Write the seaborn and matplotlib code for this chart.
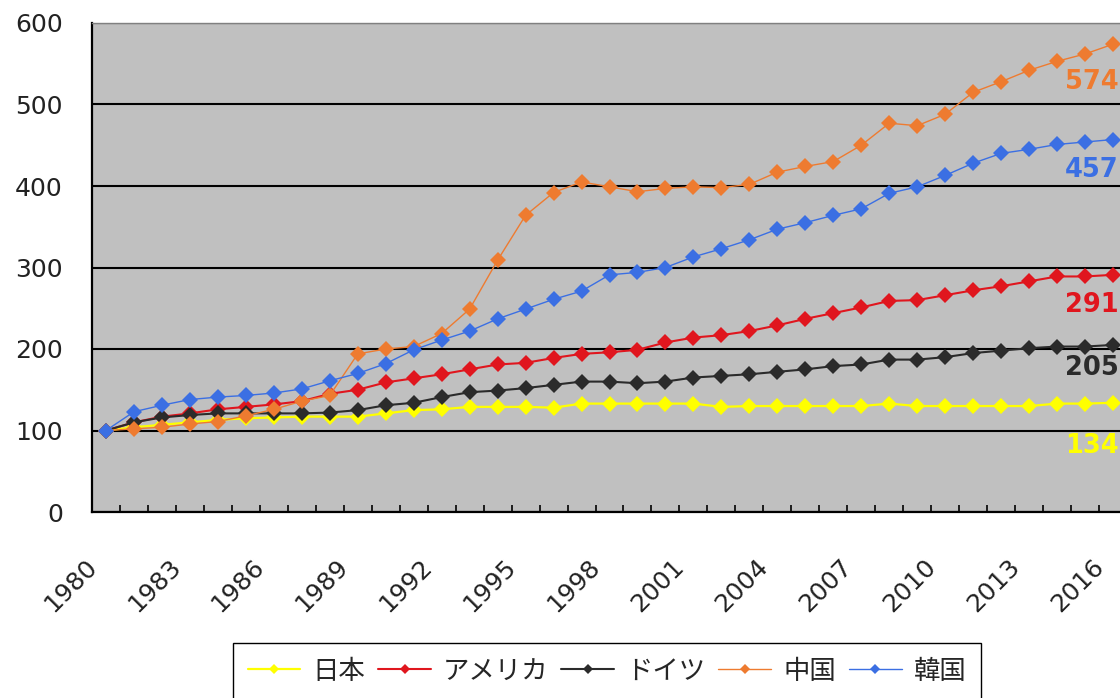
import matplotlib
matplotlib.use('Agg')
import matplotlib.pyplot as plt
from matplotlib.transforms import ScaledTranslation
from matplotlib.font_manager import FontProperties
import seaborn as sns
import pandas as pd

years = list(range(1980, 2017))

japan = [100, 104, 107, 110, 113, 115, 116, 117, 117, 117,
         121, 125, 126, 129, 129, 129, 128, 133, 133, 133,
         133, 133, 129, 130, 130, 130, 130, 130, 133, 130,
         130, 130, 130, 130, 133, 133, 134]
usa = [100, 110, 117, 121, 126, 129, 132, 136, 145, 150,
       159, 164, 169, 175, 181, 183, 189, 194, 196, 199,
       208, 214, 217, 222, 229, 237, 244, 251, 259, 260,
       266, 272, 277, 283, 289, 289, 291]
germany = [100, 110, 116, 119, 121, 121, 121, 121, 122, 125,
           131, 134, 141, 147, 149, 152, 156, 160, 160, 158,
           160, 165, 167, 169, 172, 175, 179, 181, 187, 187,
           190, 195, 198, 201, 203, 203, 205]
china = [100, 102, 104, 108, 111, 118, 126, 136, 143, 194,
         200, 203, 219, 249, 309, 364, 392, 405, 399, 393,
         397, 399, 398, 402, 417, 424, 430, 450, 477, 474,
         488, 515, 528, 542, 553, 562, 574]
korea = [100, 123, 131, 138, 141, 143, 146, 151, 161, 170,
         182, 199, 211, 222, 237, 249, 261, 271, 291, 294,
         300, 313, 323, 334, 347, 355, 364, 372, 391, 399,
         413, 428, 440, 445, 451, 454, 457]

names = ['日本', 'アメリカ', 'ドイツ', '中国', '韓国']
series = [japan, usa, germany, china, korea]
colors = ['#FFFF00', '#E0161E', '#2B2B2B', '#EE7B30', '#3B6FE3']
widths = [1.6, 1.5, 1.5, 1.0, 1.0]

# offsets (pixels) for the end-value labels
label_dy = [-43, -30, -23, -38, -30]

sns.set_style('white')
plt.rcParams['font.family'] = ['DejaVu Sans', 'Noto Sans CJK JP']

fig = plt.figure(figsize=(11.2, 6.98), dpi=100)
ax = fig.add_axes([92 / 1120, 186 / 698, 1035 / 1120, 489 / 698])
ax.set_facecolor('#C0C0C0')

for name, vals, col, lw in zip(names, series, colors, widths):
    df = pd.DataFrame({'year': years, 'value': vals})
    sns.lineplot(data=df, x='year', y='value', ax=ax, color=col, lw=lw,
                 marker='D', markersize=8, markeredgewidth=0, label=name)

ax.set_xlim(1979.5, 2016.5)
ax.set_ylim(0, 600)
ax.set_xlabel('')
ax.set_ylabel('')

# gridlines
ax.set_yticks(range(0, 601, 100))
ax.yaxis.grid(True, color='black', lw=1.5)
ax.set_axisbelow(True)
ax.tick_params(axis='y', length=0, pad=21, labelsize=18, labelcolor='#222222')

# x ticks: marks between categories, labels every 3 years
ax.set_xticks([y - 0.5 for y in years] + [2016.5], minor=True)
ax.set_xticks(years[::3])
ax.set_xticklabels([str(y) for y in years[::3]], rotation=45, ha='right',
                   va='center', rotation_mode='anchor')
ax.tick_params(axis='x', which='major', length=0, pad=37, labelsize=18,
               labelcolor='#222222')
ax.tick_params(axis='x', which='minor', direction='in', length=5, width=1.2,
               color='black', bottom=True)
shift = ScaledTranslation(-13 / 100, 0, fig.dpi_scale_trans)
for lab in ax.get_xticklabels():
    lab.set_transform(lab.get_transform() + shift)

for side in ['left', 'bottom']:
    ax.spines[side].set_color('black')
    ax.spines[side].set_linewidth(1.6)
ax.spines['top'].set_color('#808080')
ax.spines['top'].set_linewidth(1.0)
ax.spines['right'].set_visible(False)

# end-value labels
for vals, col, dy in zip(series, colors, label_dy):
    ax.annotate(str(vals[-1]), xy=(years[-1], vals[-1]), xytext=(-48, dy),
                textcoords='offset pixels', ha='left', va='center',
                fontsize=18.5, fontweight='bold', color=col)

handles, labels = ax.get_legend_handles_labels()
ax.get_legend().remove()
fig.legend(handles, labels, loc='upper left',
           bbox_to_anchor=(233 / 1120, 1 - 643 / 698), ncol=5,
           frameon=True, fancybox=False, edgecolor='black', framealpha=1,
           prop=FontProperties(family='Noto Sans CJK JP', size=19),
           handlelength=2.0, handletextpad=0.45, columnspacing=0.5,
           borderpad=0.55, borderaxespad=0, markerscale=0.6)

fig.savefig('out.png', dpi=100)
